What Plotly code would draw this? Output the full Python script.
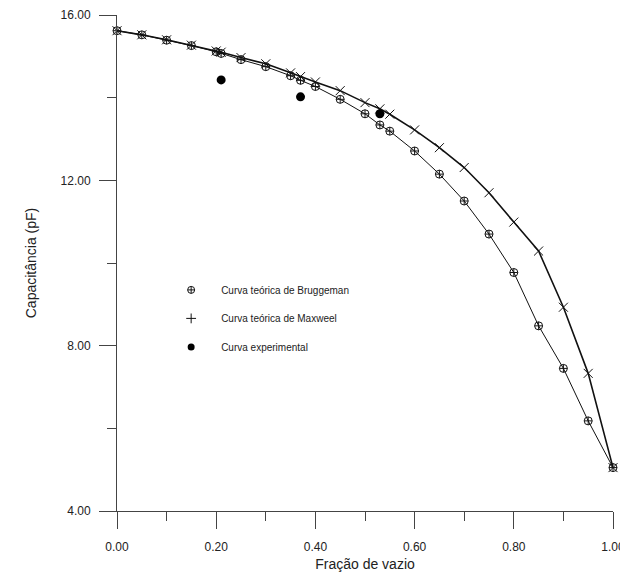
import plotly.graph_objects as go

# ---- data ----
frac_theory = [0.00, 0.05, 0.10, 0.15, 0.20, 0.21, 0.25, 0.30, 0.35, 0.37, 0.40, 0.45,
               0.50, 0.53, 0.55, 0.60, 0.65, 0.70, 0.75, 0.80, 0.85, 0.90, 0.95, 1.00]
bruggeman = [15.62, 15.52, 15.39, 15.26, 15.11, 15.07, 14.92, 14.75, 14.53, 14.42, 14.27, 13.96,
             13.61, 13.34, 13.19, 12.71, 12.15, 11.50, 10.70, 9.77, 8.48, 7.45, 6.18, 5.05]
maxwell = [15.62, 15.52, 15.40, 15.27, 15.13, 15.10, 14.97, 14.82, 14.60, 14.51, 14.38, 14.17,
           13.88, 13.73, 13.60, 13.22, 12.79, 12.31, 11.70, 10.99, 10.29, 8.93, 7.33, 5.05]
frac_exp = [0.21, 0.37, 0.53]
experimental = [14.43, 14.02, 13.61]

names = ["Curva teórica de Bruggeman", "Curva teórica de Maxweel", "Curva experimental"]

FONT = "Liberation Sans, Arial, sans-serif"
INK = "#222222"

fig = go.Figure()

# Bruggeman curve
fig.add_trace(go.Scatter(
    x=frac_theory, y=bruggeman, mode="lines+markers", showlegend=False,
    line=dict(color="#111111", width=1),
    marker=dict(symbol="circle-cross-open", size=8, color="#111111", line=dict(width=1)),
    cliponaxis=False))
# Maxwell curve
fig.add_trace(go.Scatter(
    x=frac_theory, y=maxwell, mode="lines+markers", showlegend=False,
    line=dict(color="#111111", width=1.6),
    marker=dict(symbol="x-thin-open", size=9, color="#111111", line=dict(width=1, color="#111111")),
    cliponaxis=False))
# Experimental
fig.add_trace(go.Scatter(
    x=frac_exp, y=experimental, mode="markers", showlegend=False,
    marker=dict(symbol="circle", size=9, color="#000000"),
    cliponaxis=False))

# legend entries (symbol only)
legend_symbols = [
    dict(symbol="circle-cross-open", size=7, color="#111111", line=dict(width=1, color="#111111")),
    dict(symbol="cross-thin-open", size=7, color="#111111", line=dict(width=1, color="#111111")),
    dict(symbol="circle", size=7, color="#000000"),
]
for i, (nm, mk) in enumerate(zip(names, legend_symbols)):
    fig.add_trace(go.Scatter(x=[None], y=[None], mode="markers", name=nm,
                             marker=mk, legendgroup=f"g{i}", showlegend=True))

axis_common = dict(
    showline=True, linecolor="#444444", linewidth=1,
    ticks="outside", ticklen=17, tickwidth=1, tickcolor="#444444",
    showgrid=False, zeroline=False, tickformat=".2f", automargin=False,
    tickfont=dict(family=FONT, size=12, color=INK),
)

# the page body adds an 8px offset, so the figure is sized to fit the window
fig.update_layout(
    width=620, height=566,
    margin=dict(l=109, r=15, t=7, b=63),
    paper_bgcolor="white", plot_bgcolor="white",
    font=dict(family=FONT, color=INK),
    xaxis=dict(range=[0, 1], dtick=0.2, tick0=0, ticklabelstandoff=8,
               minor=dict(ticks="outside", ticklen=9, dtick=0.1, tickcolor="#444444"),
               title=dict(text="Fração de vazio", font=dict(family=FONT, size=14, color=INK), standoff=5),
               **axis_common),
    yaxis=dict(range=[4, 16], dtick=4, tick0=4, ticklabelstandoff=6,
               minor=dict(ticks="outside", ticklen=9, dtick=2, tickcolor="#444444"),
               title=dict(text="Capacitância (pF)", font=dict(family=FONT, size=14, color=INK), standoff=20),
               **axis_common),
    legend=dict(x=0.089, y=0.475, xanchor="left", yanchor="top",
                bgcolor="rgba(0,0,0,0)", borderwidth=0,
                font=dict(family=FONT, size=10, color=INK),
                itemwidth=50, tracegroupgap=9.5, traceorder="grouped"),
)

fig.write_html("out.html")
